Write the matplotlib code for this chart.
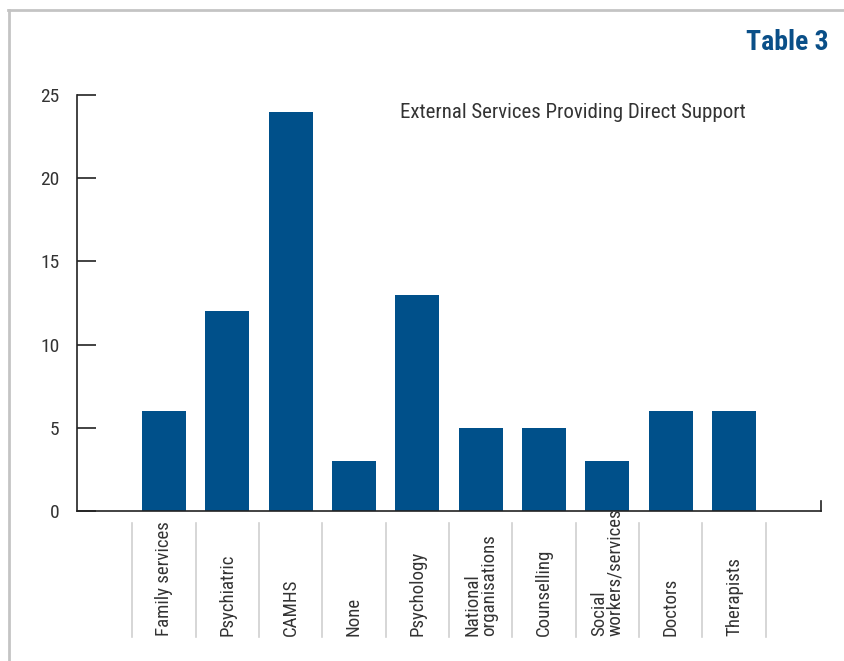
import matplotlib
matplotlib.use('Agg')
import matplotlib.pyplot as plt
from matplotlib.lines import Line2D
import numpy as np

plt.rcParams['font.family'] = ['Roboto Condensed', 'DejaVu Sans']

categories = ['Family services', 'Psychiatric', 'CAMHS', 'None', 'Psychology',
              'National\norganisations', 'Counselling', 'Social\nworkers/services',
              'Doctors', 'Therapists']
counts = [6, 12, 24, 3, 13, 5, 5, 3, 6, 6]
y_ticks = [0, 5, 10, 15, 20, 25]

bar_color = '#00508a'
text_color = '#333333'

fig = plt.figure(figsize=(8.45, 6.61), dpi=100)
W, H = 845, 661

# axes box in pixels: x 77..821, y 95..511
ax = fig.add_axes([77 / W, 1 - 511 / H, (821 - 77) / W, (511 - 95) / H])

x = np.arange(len(categories))
ax.bar(x, counts, width=0.695, color=bar_color, zorder=2)

ax.set_xlim(-1.37, 10.37)
ax.set_ylim(0, 25)
ax.set_yticks(y_ticks)
ax.set_yticklabels([str(t) for t in y_ticks])
ax.tick_params(axis='y', direction='in', length=14, width=1.2, color='#222222',
               pad=12.5, labelsize=14, labelcolor=text_color)
ax.set_xticks([])
for s in ['top', 'right']:
    ax.spines[s].set_visible(False)
ax.spines['left'].set_color('#222222')
ax.spines['left'].set_linewidth(1.2)
ax.spines['bottom'].set_color('#222222')
ax.spines['bottom'].set_linewidth(1.2)

# small upward tick at right end of x axis
ax.plot([1, 1], [0, 0.025], transform=ax.transAxes, color='#222222', lw=1.2,
        clip_on=False)

# category separators and labels below the axis
sep_top = 1 - 523 / H
sep_bot = 1 - 637 / H
to_fig = fig.transFigure.inverted()
for i in range(len(categories) + 1):
    xf = to_fig.transform(ax.transData.transform((i - 0.5, 0)))[0]
    fig.add_artist(Line2D([xf, xf], [sep_bot, sep_top], color='#d0d0d0', lw=1.2,
                          transform=fig.transFigure))
for i, lab in enumerate(categories):
    xf = to_fig.transform(ax.transData.transform((i, 0)))[0]
    fig.text(xf, sep_bot + 0.002, lab, rotation=90, ha='center', va='bottom',
             fontsize=13.6, color=text_color, linespacing=0.85,
             multialignment='left')

# subtitle inside plot
fig.text(400 / W, 1 - 112 / H, 'External Services Providing Direct Support',
         ha='left', va='center', fontsize=15, color=text_color)

# title
fig.text(829 / W, 1 - 42 / H, 'Table 3', ha='right', va='center',
         fontsize=20, fontweight='bold', color='#0a4f88')

# frame lines (top and left)
fig.add_artist(Line2D([8 / W, 1], [1 - 10 / H, 1 - 10 / H], color='#c4c4c4',
                      lw=2, transform=fig.transFigure))
fig.add_artist(Line2D([9 / W, 9 / W], [0, 1 - 10 / H], color='#c4c4c4',
                      lw=2, transform=fig.transFigure))

fig.savefig('out.png', dpi=100)
